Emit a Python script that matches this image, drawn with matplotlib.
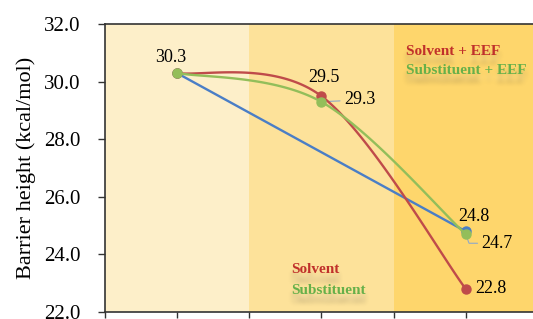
import numpy as np
import matplotlib
matplotlib.use("Agg")
import matplotlib.pyplot as plt

# ============================================
# data
# ============================================
x_pos = [1, 2, 3]
direct_x = [1, 3]
direct_y = [30.3, 24.8]
solvent_eef = [30.3, 29.5, 22.8]
substituent_eef = [30.3, 29.3, 24.7]
y_ticks = [22.0, 24.0, 26.0, 28.0, 30.0, 32.0]
band_edges = [0.5, 1.5, 2.5, 3.5]
band_colors = ["#FDEFC9", "#FDE29A", "#FED66C"]

BLUE = "#4A7EC6"
RED = "#BF4B4A"
GREEN = "#93BE5A"
TXT_RED = "#C0302B"
TXT_GREEN = "#66B04A"


def smooth(xs, ys, n=60):
    # Excel style smoothed line (Catmull-Rom as cubic bezier)
    xs = np.asarray(xs, float)
    ys = np.asarray(ys, float)
    pts = np.column_stack([xs, ys])
    pts = np.vstack([pts[0], pts, pts[-1]])
    out = []
    t = np.linspace(0, 1, n)[:, None]
    for i in range(1, len(pts) - 2):
        p0, p1, p2, p3 = pts[i - 1], pts[i], pts[i + 1], pts[i + 2]
        c1 = p1 + (p2 - p0) / 6
        c2 = p2 - (p3 - p1) / 6
        seg = ((1 - t) ** 3) * p1 + 3 * ((1 - t) ** 2) * t * c1 \
            + 3 * (1 - t) * t ** 2 * c2 + t ** 3 * p2
        out.append(seg)
    out = np.vstack(out)
    return out[:, 0], out[:, 1]


def blur_filter(radius):
    # soft shadow for the series labels
    def _f(im, dpi):
        pad = radius * 3
        a = np.pad(im, ((pad, pad), (pad, pad), (0, 0)))
        for _ in range(3):
            for axis in (0, 1):
                c = np.cumsum(a, axis=axis)
                c = np.concatenate([np.zeros_like(np.take(c, [0], axis=axis)), c], axis=axis)
                n = a.shape[axis]
                lo = np.clip(np.arange(n) - radius, 0, n)
                hi = np.clip(np.arange(n) + radius + 1, 0, n)
                a = (np.take(c, hi, axis=axis) - np.take(c, lo, axis=axis)) / (2 * radius + 1)
        return a, -pad, -pad
    return _f


plt.rcParams["font.family"] = ["Liberation Serif", "DejaVu Serif"]

fig = plt.figure(figsize=(5.33, 3.19), dpi=100)
ax = fig.add_axes([104.5 / 533, 7 / 319, 433.5 / 533, 288 / 319])

for i, c in enumerate(band_colors):
    ax.axvspan(band_edges[i], band_edges[i + 1], color=c, lw=0, zorder=0)

ax.plot(direct_x, direct_y, color=BLUE, lw=1.7, marker="o", ms=6.5,
        mec=BLUE, zorder=3)

sx, sy = smooth(x_pos, solvent_eef)
ax.plot(sx, sy, color=RED, lw=1.7, zorder=4)
ax.plot(x_pos, solvent_eef, "o", color=RED, ms=6.5, zorder=4)

gx, gy = smooth(x_pos, substituent_eef)
ax.plot(gx, gy, color=GREEN, lw=1.7, zorder=5)
ax.plot(x_pos, substituent_eef, "o", color=GREEN, ms=6.5, zorder=5)

# value labels
fs = 13
lead = dict(arrowstyle="-", color="#8FA9C9", lw=0.8, shrinkA=1, shrinkB=3)
ax.annotate("30.3", (1, 30.3), xytext=(-4, 11.3), textcoords="offset points",
            ha="center", va="center", fontsize=fs)
ax.annotate("29.5", (2, 29.5), xytext=(2, 13), textcoords="offset points",
            ha="center", va="center", fontsize=fs)
ax.annotate("29.3", (2, 29.3), xytext=(16.5, 1.3), textcoords="offset points",
            ha="left", va="center", fontsize=fs, arrowprops=lead)
ax.annotate("24.8", (3, 24.8), xytext=(5.8, 10.4), textcoords="offset points",
            ha="center", va="center", fontsize=fs)
ax.annotate("24.7", (3, 24.7), xytext=(11.5, -6.5), textcoords="offset points",
            ha="left", va="center", fontsize=fs,
            arrowprops=dict(lead, connectionstyle="angle,angleA=0,angleB=-70,rad=0"))
ax.annotate("22.8", (3, 22.8), xytext=(6.5, 0), textcoords="offset points",
            ha="left", va="center", fontsize=fs)

# series labels (with blurred shadow)
series_labels = [
    (2.585, 31.04, "Solvent + EEF", TXT_RED),
    (2.585, 30.38, "Substituent + EEF", TXT_GREEN),
    (1.789, 23.46, "Solvent", TXT_RED),
    (1.789, 22.76, "Substituent", TXT_GREEN),
]
for lx, ly, s, col in series_labels:
    sh = ax.text(lx, ly - 0.28, s, color="#6E6250", alpha=0.35, fontsize=11,
                 fontweight="bold", ha="left", va="center", zorder=6)
    sh.set_agg_filter(blur_filter(2))
    ax.text(lx, ly, s, color=col, fontsize=11, fontweight="bold",
            ha="left", va="center", zorder=7)

ax.set_xlim(0.5, 3.5)
ax.set_ylim(22, 32)
ax.set_yticks(y_ticks)
ax.set_yticklabels(["%.1f" % v for v in y_ticks], fontsize=15)
ax.set_xticks(np.arange(0.5, 3.51, 0.5))
ax.set_xticklabels([])
ax.tick_params(axis="y", direction="out", length=5, width=1, pad=12,
               colors="#333333", labelcolor="black")
ax.tick_params(axis="x", direction="out", length=4, width=1, colors="#333333")
ax.set_ylabel("Barrier height (kcal/mol)", fontsize=16, labelpad=6)
for s in ax.spines.values():
    s.set_color("#333333")
    s.set_linewidth(1.2)

fig.savefig("out.png", dpi=100)
